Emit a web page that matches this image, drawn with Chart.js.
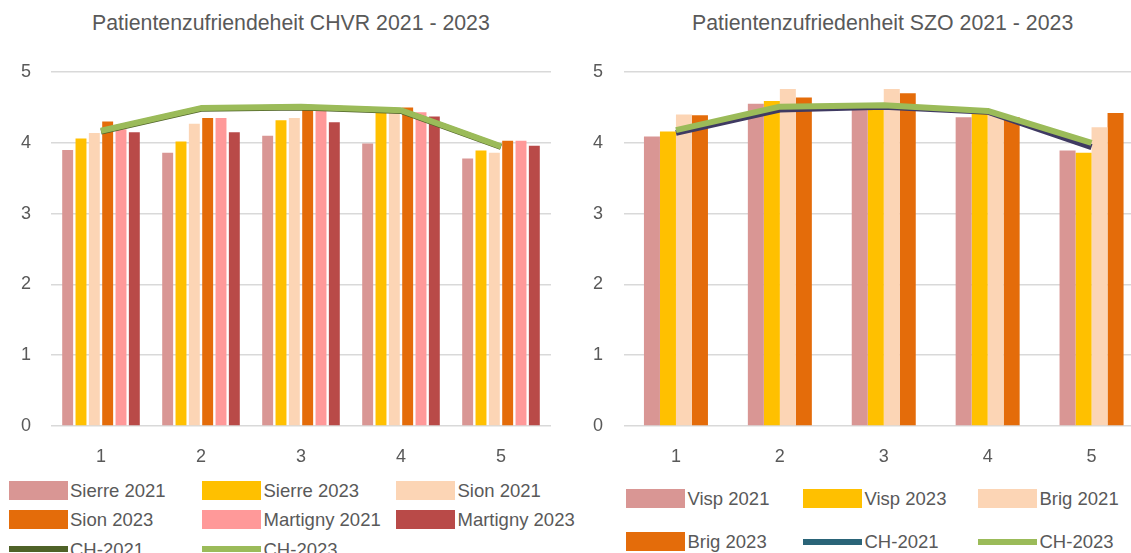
<!DOCTYPE html>
<html>
<head>
<meta charset="utf-8">
<script src="https://cdn.jsdelivr.net/npm/chart.js@4.4.0/dist/chart.umd.min.js"></script>
<style>
  html, body { margin:0; padding:0; width:1131px; height:553px; overflow:hidden; background:#fff; }
  #wrap { position:relative; width:1131px; height:553px; overflow:hidden; font-family:"Liberation Sans", Arial, sans-serif; color:#595959; }
  .title { position:absolute; top:13px; font-size:21.3px; line-height:21px; white-space:nowrap; }
  canvas { position:absolute; top:0; }
  .lg { position:absolute; height:19px; display:flex; align-items:center; white-space:nowrap; }
  .lg .sw { width:59px; height:19px; flex:none; }
  .lg .ln { width:59px; height:6px; flex:none; }
  .lg span { font-size:18.5px; line-height:19px; margin-left:2.5px; }
</style>
</head>
<body>
<div id="wrap">
  <div class="title" style="left:92px">Patientenzufriendeheit CHVR 2021 - 2023</div>
  <div class="title" style="left:692px">Patientenzufriedenheit SZO 2021 - 2023</div>
  <canvas id="c1" width="570" height="470" style="left:0"></canvas>
  <canvas id="c2" width="590" height="470" style="left:570px"></canvas>
  <div id="leg1"></div>
  <div id="leg2"></div>
</div>
<script>
// ---- data ----
const categories = ['1', '2', '3', '4', '5'];
const yTickValues = [0, 1, 2, 3, 4, 5];

// CHVR chart
const sierre2021   = [3.90, 3.86, 4.10, 3.99, 3.78];
const sierre2023   = [4.06, 4.02, 4.32, 4.45, 3.89];
const sion2021     = [4.14, 4.27, 4.35, 4.44, 3.86];
const sion2023     = [4.30, 4.35, 4.50, 4.50, 4.03];
const martigny2021 = [4.19, 4.35, 4.46, 4.43, 4.03];
const martigny2023 = [4.15, 4.15, 4.29, 4.37, 3.96];
const chvrCH2021   = [4.16, 4.48, 4.50, 4.45, 3.94];
const chvrCH2023   = [4.17, 4.49, 4.51, 4.46, 3.95];

// SZO chart
const visp2021  = [4.09, 4.55, 4.50, 4.36, 3.89];
const visp2023  = [4.16, 4.59, 4.52, 4.43, 3.86];
const brig2021  = [4.40, 4.76, 4.76, 4.42, 4.22];
const brig2023  = [4.39, 4.64, 4.70, 4.36, 4.42];
const szoCH2021 = [4.14, 4.47, 4.51, 4.44, 3.94];
const szoCH2023 = [4.18, 4.51, 4.53, 4.45, 4.00];

// ---- styles ----
const C = {
  rose: '#d99694', gold: '#ffc000', peach: '#fcd5b5', orange: '#e46c0a',
  salmon: '#ff9999', brick: '#b94a48', olive: '#4f6228', green: '#9bbb59',
  teal: '#2a6478', dusk: '#3f3a62'
};
const GRAY = '#595959';

function bar(label, data, color, catPct, barPct) {
  return { type:'bar', label, data, backgroundColor:color, borderWidth:0,
           categoryPercentage:catPct, barPercentage:barPct, order:3, legendColor:color };
}
function line(label, data, color, order, legendColor) {
  return { type:'line', label, data, borderColor:color, backgroundColor:color, borderWidth:6,
           pointRadius:0, pointHoverRadius:0, tension:0, fill:false, order,
           borderJoinStyle:'round', legendColor: legendColor || color, isLine:true };
}

function makeOptions(yWidth, yPad, padRight) {
  return {
    responsive:false, maintainAspectRatio:false, animation:false,
    layout:{ padding:{ top:72, right:padRight, bottom:0, left:0 } },
    plugins:{ legend:{ display:false }, tooltip:{ enabled:false }, title:{ display:false } },
    scales:{
      x:{
        type:'category',
        grid:{ display:false, drawTicks:false },
        border:{ display:false },
        ticks:{ color:GRAY, font:{ family:'"Liberation Sans", Arial, sans-serif', size:18 }, padding:20, maxRotation:0 },
        afterFit(s){ s.height = 44; }
      },
      y:{
        min:0, max:5,
        afterBuildTicks(s){ s.ticks = yTickValues.map(v => ({ value:v })); },
        grid:{ color:'#d9d9d9', lineWidth:1.6, drawTicks:false },
        border:{ display:false },
        ticks:{ color:GRAY, font:{ family:'"Liberation Sans", Arial, sans-serif', size:18 }, padding:yPad },
        afterFit(s){ s.width = yWidth; }
      }
    }
  };
}

const chart1 = new Chart(document.getElementById('c1'), {
  data:{
    labels:categories,
    datasets:[
      bar('Sierre 2021', sierre2021, C.rose, 0.8, 0.82),
      bar('Sierre 2023', sierre2023, C.gold, 0.8, 0.82),
      bar('Sion 2021', sion2021, C.peach, 0.8, 0.82),
      bar('Sion 2023', sion2023, C.orange, 0.8, 0.82),
      bar('Martigny 2021', martigny2021, C.salmon, 0.8, 0.82),
      bar('Martigny 2023', martigny2023, C.brick, 0.8, 0.82),
      line('CH-2021', chvrCH2021, C.olive, 1),
      line('CH-2023', chvrCH2023, C.green, 0)
    ]
  },
  options: makeOptions(51, 20, 19)
});

const chart2 = new Chart(document.getElementById('c2'), {
  data:{
    labels:categories,
    datasets:[
      bar('Visp 2021', visp2021, C.rose, 0.616, 1.0),
      bar('Visp 2023', visp2023, C.gold, 0.616, 1.0),
      bar('Brig 2021', brig2021, C.peach, 0.616, 1.0),
      bar('Brig 2023', brig2023, C.orange, 0.616, 1.0),
      line('CH-2021', szoCH2021, C.dusk, 1, C.teal),
      line('CH-2023', szoCH2023, C.green, 0)
    ]
  },
  options: makeOptions(54, 21, 16.5)
});

// ---- HTML legends built from the chart datasets ----
function buildLegend(chart, el, cols, rows) {
  chart.data.datasets.forEach((ds, i) => {
    const c = i % cols.length, r = Math.floor(i / cols.length);
    const item = document.createElement('div');
    item.className = 'lg';
    item.style.left = cols[c] + 'px';
    item.style.top = rows[r] + 'px';
    const sw = document.createElement('div');
    sw.className = ds.isLine ? 'ln' : 'sw';
    sw.style.background = ds.legendColor;
    const tx = document.createElement('span');
    tx.textContent = ds.label;
    item.appendChild(sw); item.appendChild(tx);
    el.appendChild(item);
  });
}
buildLegend(chart1, document.getElementById('leg1'), [8.5, 202, 396], [481, 510, 539.5]);
buildLegend(chart2, document.getElementById('leg2'), [626, 803, 978], [489, 532]);
</script>
</body>
</html>
